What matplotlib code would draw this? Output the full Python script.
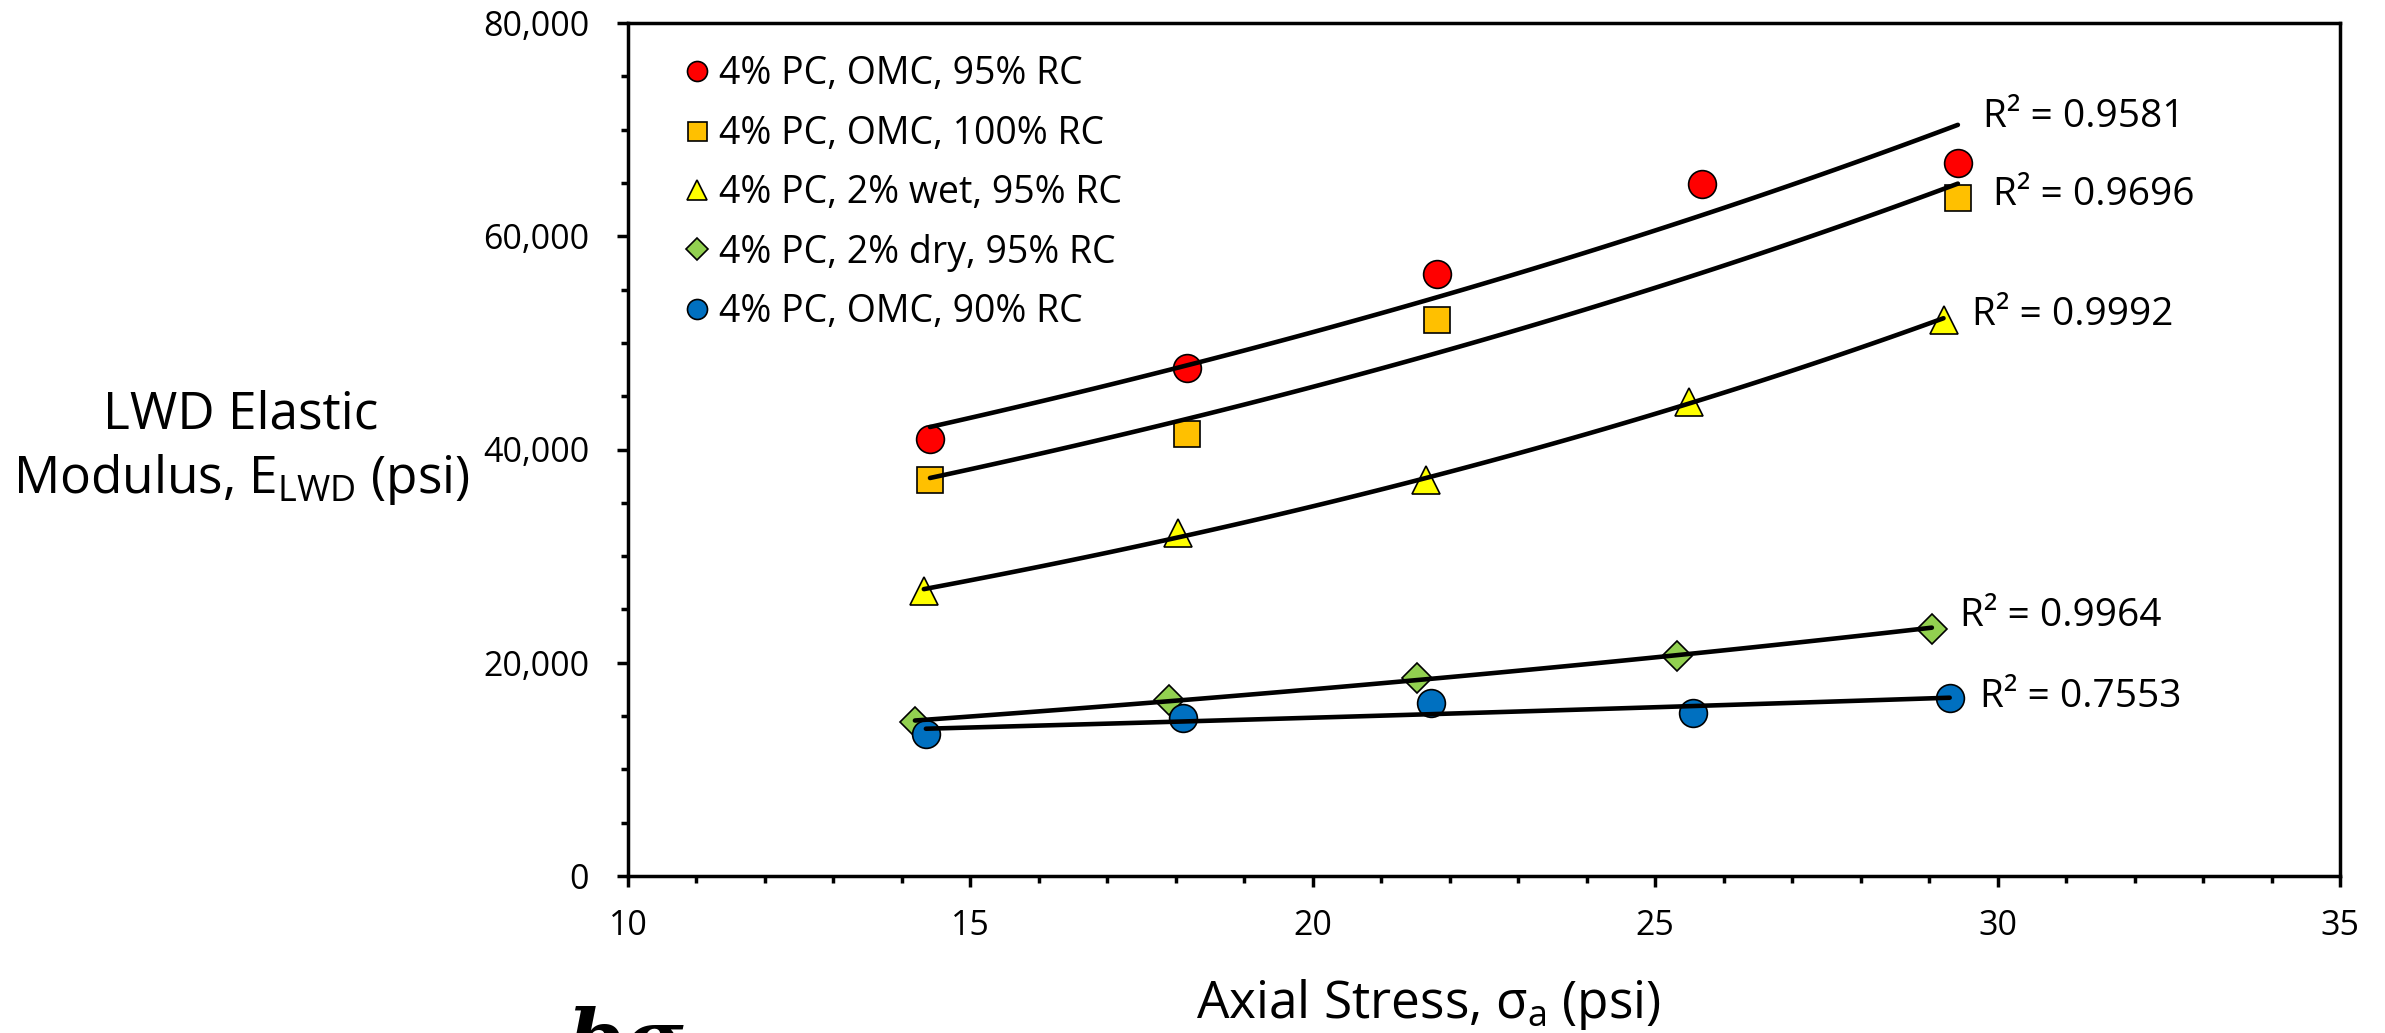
import numpy as np
import matplotlib.pyplot as plt
from matplotlib.ticker import MultipleLocator, FuncFormatter

plt.rcParams['font.family'] = ['Open Sans', 'DejaVu Sans']
plt.rcParams['mathtext.fontset'] = 'custom'
plt.rcParams['mathtext.rm'] = 'Open Sans'
plt.rcParams['mathtext.it'] = 'Open Sans:italic'

# series
labels = ['4% PC, OMC, 95% RC', '4% PC, OMC, 100% RC', '4% PC, 2% wet, 95% RC',
          '4% PC, 2% dry, 95% RC', '4% PC, OMC, 90% RC']
x_95 = [14.41, 18.16, 21.82, 25.68, 29.42]
y_95 = [41000, 47600, 56450, 64900, 66850]
x_100 = [14.41, 18.16, 21.82, 29.42]
y_100 = [37100, 41500, 52100, 63550]
x_wet = [14.32, 18.03, 21.66, 25.49, 29.21]
y_wet = [26700, 32150, 37150, 44450, 52150]
x_dry = [14.19, 17.90, 21.52, 25.32, 29.04]
y_dry = [14400, 16550, 18600, 20650, 23150]
x_90 = [14.35, 18.10, 21.72, 25.55, 29.30]
y_90 = [13300, 14800, 16200, 15250, 16650]
r2 = ['0.9581', '0.9696', '0.9992', '0.9964', '0.7553']

# where the R² notes sit (data coords)
r2_pos = [(29.78, 71150), (29.94, 63900), (29.62, 52650), (29.45, 24350), (29.74, 16750)]

xs = [x_95, x_100, x_wet, x_dry, x_90]
ys = [y_95, y_100, y_wet, y_dry, y_90]
colors = ['#FF0000', '#FFC000', '#FFFF00', '#92D050', '#0070C0']
markers = ['o', 's', '^', 'D', 'o']
sizes = [20, 19, 20, 15, 20]

fig = plt.figure(figsize=(23.85, 10.33), dpi=100)
ax = fig.add_axes([628 / 2385, 1 - 876 / 1033, 1712 / 2385, 853 / 1033])

for x, y, c, m, s, lab in zip(xs, ys, colors, markers, sizes, labels):
    ax.plot(x, y, linestyle='none', marker=m, markersize=s, markerfacecolor=c,
            markeredgecolor='black', markeredgewidth=1.2, label=lab, zorder=3)
    # exponential trendline, like Excel
    b, a = np.polyfit(x, np.log(y), 1)
    xf = np.linspace(min(x), max(x), 100)
    ax.plot(xf, np.exp(a + b * xf), color='black', lw=3.3, solid_capstyle='round', zorder=4)

for txt, (px, py) in zip(r2, r2_pos):
    ax.text(px, py, 'R² = ' + txt, fontsize=28, ha='left', va='center')

ax.set_xlim(10, 35)
ax.set_ylim(0, 80000)
ax.xaxis.set_major_locator(MultipleLocator(5))
ax.xaxis.set_minor_locator(MultipleLocator(1))
ax.yaxis.set_major_locator(MultipleLocator(20000))
ax.yaxis.set_minor_locator(MultipleLocator(5000))
ax.yaxis.set_major_formatter(FuncFormatter(lambda v, p: f'{int(v):,}'))

for sp in ax.spines.values():
    sp.set_linewidth(2.5)
ax.tick_params(which='major', direction='out', length=8, width=2.5, labelsize=24.5)
ax.tick_params(which='minor', direction='out', length=5, width=2.5)
ax.tick_params(axis='y', which='major', pad=20)
ax.tick_params(axis='x', which='major', pad=16)

ax.set_xlabel(r'Axial Stress, σ$_\mathrm{a}$ (psi)', fontsize=37)
ax.xaxis.label.set_va('baseline')
ax.xaxis.set_label_coords(0.4677, -0.1665)

ax.text(-0.226, 0.5252, 'LWD Elastic', fontsize=37, ha='center', va='baseline',
        transform=ax.transAxes)
ax.text(-0.226, 0.449, r'Modulus, E$_\mathrm{LWD}$ (psi)', fontsize=37, ha='center',
        va='baseline', transform=ax.transAxes)

ax.legend(loc='upper left', bbox_to_anchor=(0.0304, 0.962), frameon=False, fontsize=27,
          markerscale=0.72, handlelength=0.9, handletextpad=0.13, labelspacing=0.57,
          borderpad=0, borderaxespad=0)

# partial formula peeking in at the bottom edge
fig.text(568 / 2385, -0.033, 'bσ', fontsize=58, family='DejaVu Serif',
         weight='bold', style='italic', va='baseline')

fig.savefig('out.png', dpi=100)
